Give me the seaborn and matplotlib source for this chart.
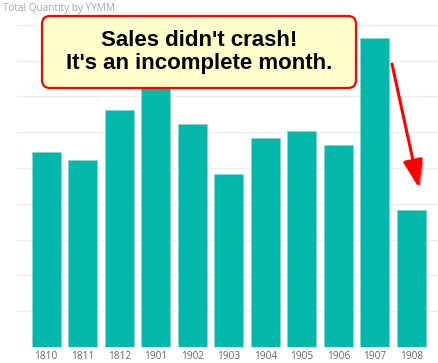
import matplotlib
matplotlib.use('Agg')
import matplotlib.pyplot as plt
import matplotlib.patheffects as pe
from matplotlib.patches import FancyBboxPatch
import seaborn as sns
import pandas as pd

# data (no y labels shown, scale is relative)
months = ['1810', '1811', '1812', '1901', '1902', '1903', '1904', '1905', '1906', '1907', '1908']
quantity = [10880, 10460, 13260, 14650, 12480, 9670, 11660, 12070, 11270, 17280, 7650]
grid_ticks = [0, 2000, 4000, 6000, 8000, 10000, 12000, 14000, 16000, 18000]

title_text = 'Total Quantity by YYMM'
note_text = "Sales didn't crash!\nIt's an incomplete month."

df = pd.DataFrame({'YYMM': months, 'Quantity': quantity})

sns.set_style('white')
plt.rcParams['font.family'] = ['Open Sans', 'DejaVu Sans']

fig = plt.figure(figsize=(4.39, 3.63), dpi=100)
ax = fig.add_axes([17 / 439, 16 / 363, 423.5 / 439, 325.8 / 363])

sns.barplot(data=df, x='YYMM', y='Quantity', color='#01B8AA', saturation=1,
            width=0.786, edgecolor='#7FD9D1', linewidth=0.6, ax=ax, zorder=3)

ax.set_xlim(-0.8, 10.8)
ax.set_ylim(0, 18200)
ax.set_yticks(grid_ticks)
ax.set_yticklabels([])
ax.grid(axis='y', color='#EEEEEE', linewidth=1, zorder=0)
ax.set_axisbelow(True)
ax.set_xlabel('')
ax.set_ylabel('')
ax.tick_params(axis='both', length=0)
ax.tick_params(axis='x', labelsize=7.3, labelcolor='#666666', pad=3)
for s in ax.spines.values():
    s.set_visible(False)

fig.text(3 / 439, 1 - 9 / 363, title_text, fontsize=7.2, color='#A6A6A6',
         ha='left', va='center')

# overlay in pixel units for the callout and arrow
ov = fig.add_axes([0, 0, 1, 1], zorder=10)
ov.set_xlim(0, 439)
ov.set_ylim(363, 0)
ov.axis('off')
ov.patch.set_alpha(0)

box = FancyBboxPatch((42, 16), 314, 72, boxstyle='round,pad=0,rounding_size=8',
                     facecolor='#FFFFCC', edgecolor='#FF0000', linewidth=1.6)
ov.add_patch(box)
ov.text(199, 52, note_text, ha='center', va='center', fontsize=16,
        fontweight='bold', color='black', linespacing=1.15,
        family=['Liberation Sans', 'DejaVu Sans'])

ov.annotate('', xy=(419, 188), xytext=(392, 64),
            arrowprops=dict(arrowstyle='-|>,head_length=1.7,head_width=0.6',
                            color='#FF0000', lw=2.2, shrinkA=0, shrinkB=0,
                            path_effects=[pe.SimplePatchShadow(offset=(2, -2), alpha=0.35),
                                          pe.Normal()]))

fig.savefig('out.png', dpi=100)
